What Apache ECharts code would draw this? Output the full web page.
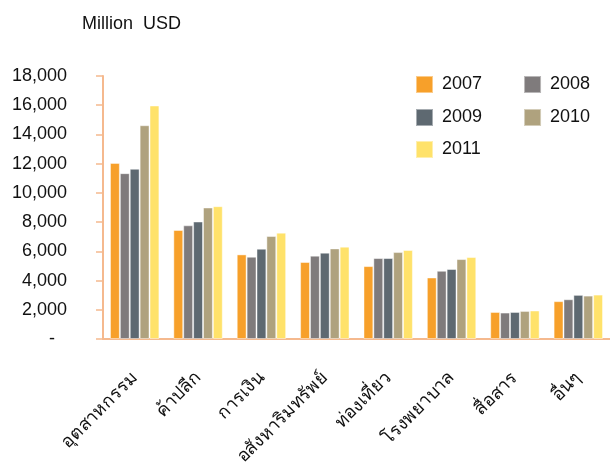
<!DOCTYPE html>
<html>
<head>
<meta charset="utf-8">
<script src="https://cdn.jsdelivr.net/npm/echarts@6/dist/echarts.min.js"></script>
<style>
html, body { margin: 0; padding: 0; background: #fff; }
#chart { width: 610px; height: 470px; }
</style>
</head>
<body>
<div id="chart"></div>
<script>
var categories = ['อุตสาหกรรม', 'ค้าปลีก', 'การเงิน', 'อสังหาริมทรัพย์', 'ท่องเที่ยว', 'โรงพยาบาล', 'สื่อสาร', 'อื่นๆ'];
var years = ['2007', '2008', '2009', '2010', '2011'];
var colors = ['#F7A02A', '#7F7B7C', '#5E6971', '#AFA27E', '#FFE26A'];

var v2007 = [12050, 7460, 5790, 5270, 4990, 4210, 1850, 2590];
var v2008 = [11350, 7780, 5630, 5700, 5540, 4670, 1810, 2720];
var v2009 = [11650, 8040, 6180, 5910, 5540, 4790, 1850, 3020];
var v2010 = [14630, 9000, 7050, 6200, 5950, 5470, 1920, 2970];
var v2011 = [15980, 9090, 7280, 6320, 6090, 5610, 1950, 3040];
var seriesValues = [v2007, v2008, v2009, v2010, v2011];

var axisColor = '#F5B98E';
var font = 'Liberation Sans, Arial, sans-serif';

var chart = echarts.init(document.getElementById('chart'));

var series = [];
for (var i = 0; i < years.length; i++) {
    series.push({
        name: years[i],
        type: 'bar',
        data: seriesValues[i],
        barGap: '0%',
        barCategoryGap: '22%',
        itemStyle: {
            color: colors[i],
            borderColor: 'rgba(255,255,255,0.45)',
            borderWidth: 1
        }
    });
}

// one legend per row so the two columns line up like the original
function legendRow(names, top) {
    return {
        data: names,
        left: 410,
        top: top,
        itemWidth: 17,
        itemHeight: 17,
        itemGap: 41,
        icon: 'rect',
        textStyle: { fontFamily: font, fontSize: 18, color: '#111', padding: [0, 0, 0, 4] }
    };
}

var option = {
    color: colors,
    animation: false,
    title: {
        text: 'Million  USD',
        left: 77,
        top: 10,
        textStyle: { fontFamily: font, fontSize: 18, fontWeight: 'normal', color: '#111' }
    },
    legend: [
        legendRow(['2007', '2008'], 70),
        legendRow(['2009', '2010'], 103),
        legendRow(['2011'], 135)
    ],
    grid: {
        left: 103,
        right: -5,
        top: 76,
        bottom: 131
    },
    xAxis: {
        type: 'category',
        data: categories,
        axisLine: { lineStyle: { color: axisColor, width: 2 } },
        axisTick: { length: 7, lineStyle: { color: axisColor, width: 1.5 } },
        axisLabel: {
            rotate: 45,
            margin: 36,
            fontSize: 18,
            color: '#111',
            fontFamily: 'Tahoma, Noto Sans, sans-serif'
        }
    },
    yAxis: {
        type: 'value',
        min: 0,
        max: 18000,
        interval: 2000,
        splitLine: { show: false },
        axisLine: { show: true, lineStyle: { color: axisColor, width: 2 } },
        axisTick: { show: true, length: 7, lineStyle: { color: axisColor, width: 1.5 } },
        axisLabel: {
            margin: 36,
            fontSize: 18,
            color: '#111',
            fontFamily: font,
            formatter: function (v) {
                if (v === 0) return '{z|-}';
                return v.toLocaleString('en-US');
            },
            rich: {
                z: { fontSize: 18, fontFamily: font, color: '#111', padding: [0, 12, 0, 0] }
            }
        }
    },
    series: series
};
chart.setOption(option);
</script>
</body>
</html>
